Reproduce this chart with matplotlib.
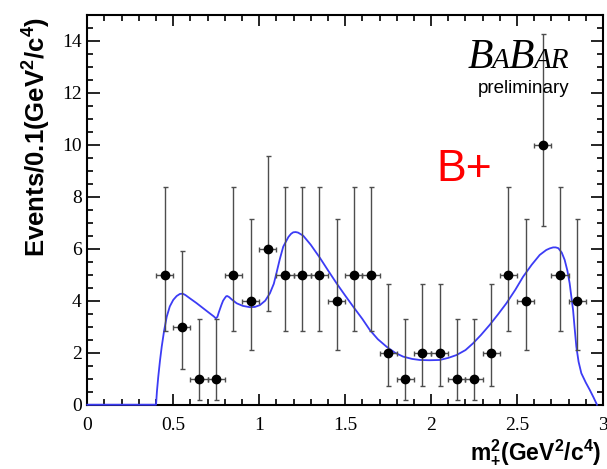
import matplotlib.pyplot as plt
from matplotlib.ticker import MultipleLocator, FixedLocator, FixedFormatter

# Datos: eventos por bin de 0.1 GeV^2/c^4
centros = [0.45, 0.55, 0.65, 0.75, 0.85, 0.95, 1.05, 1.15, 1.25, 1.35, 1.45,
           1.55, 1.65, 1.75, 1.85, 1.95, 2.05, 2.15, 2.25, 2.35, 2.45, 2.55,
           2.65, 2.75, 2.85]
eventos = [5, 3, 1, 1, 5, 4, 6, 5, 5, 5, 4, 5, 5, 2, 1, 2, 2, 1, 1, 2, 5, 4,
           10, 5, 4]
# extremos de las barras de error (Poisson)
err_abajo = [2.84, 1.37, 0.17, 0.17, 2.84, 2.09, 3.62, 2.84, 2.84, 2.84, 2.09,
             2.84, 2.84, 0.71, 0.17, 0.71, 0.71, 0.17, 0.17, 0.71, 2.84, 2.09,
             6.89, 2.84, 2.09]
err_arriba = [8.38, 5.92, 3.30, 3.30, 8.38, 7.16, 9.58, 8.38, 8.38, 8.38, 7.16,
              8.38, 8.38, 4.64, 3.30, 4.64, 4.64, 3.30, 3.30, 4.64, 8.38, 7.16,
              14.27, 8.38, 7.16]

# Curva del ajuste
ajuste_x = [0.0, 0.40, 0.405, 0.413, 0.423, 0.433, 0.447, 0.462, 0.48, 0.50,
            0.52, 0.539, 0.555, 0.57, 0.597, 0.635, 0.674, 0.715, 0.735,
            0.748, 0.757, 0.765, 0.781, 0.79, 0.80, 0.808, 0.814, 0.825, 0.84,
            0.869, 0.905, 0.946, 0.975, 1.004, 1.035, 1.062, 1.085, 1.10,
            1.12, 1.14, 1.17, 1.185, 1.198, 1.212, 1.226, 1.256, 1.30, 1.353,
            1.40, 1.45, 1.50, 1.547, 1.60, 1.644, 1.69, 1.741, 1.79, 1.837,
            1.89, 1.934, 1.99, 2.05, 2.10, 2.148, 2.20, 2.244, 2.29, 2.341,
            2.39, 2.438, 2.49, 2.535, 2.585, 2.632, 2.67, 2.69, 2.71, 2.725,
            2.74, 2.76, 2.777, 2.793, 2.806, 2.816, 2.826, 2.835, 2.845,
            2.858, 2.874, 2.90, 2.923, 2.945, 2.965]
ajuste_y = [0.0, 0.0, 0.5, 1.08, 1.7, 2.23, 2.85, 3.38, 3.78, 4.03,
            4.18, 4.26, 4.27, 4.22, 4.09, 3.91, 3.71, 3.50, 3.40,
            3.32, 3.38, 3.55, 3.85, 4.0, 4.10, 4.17, 4.18, 4.14, 4.05,
            3.90, 3.80, 3.75, 3.76, 3.83, 4.0, 4.28, 4.65, 5.05,
            5.6, 6.08, 6.45, 6.57, 6.63, 6.64, 6.62, 6.50, 6.15, 5.65,
            5.17, 4.67, 4.20, 3.77, 3.30, 2.87, 2.52, 2.23, 2.00, 1.85,
            1.76, 1.72, 1.71, 1.72, 1.80, 1.91, 2.10, 2.36, 2.68, 3.07,
            3.48, 3.90, 4.42, 4.92, 5.38, 5.76, 5.95, 6.01, 6.05, 6.05,
            6.02, 5.85, 5.57, 5.15, 4.67, 4.15, 3.64, 2.95, 2.23,
            1.65, 1.21, 0.85, 0.57, 0.28, 0.0]

etiquetas_x = ['0', '0.5', '1', '1.5', '2', '2.5', '3']
etiquetas_y = ['0', '2', '4', '6', '8', '10', '12', '14']

plt.rcParams['mathtext.fontset'] = 'custom'
plt.rcParams['mathtext.rm'] = 'Liberation Sans:bold'
plt.rcParams['mathtext.bf'] = 'Liberation Sans:bold'
plt.rcParams['mathtext.default'] = 'bf'

fig = plt.figure(figsize=(6.07, 4.69), dpi=100)
ax = fig.add_axes([0.1438, 0.1371, 0.8496, 0.8316])

# curva del ajuste (se dibuja encima del eje en y=0)
ax.plot(ajuste_x, ajuste_y, color='#3c3cf5', lw=1.3, zorder=2.6,
        clip_on=False)

# puntos con barras de error
yerr = [[e - a for e, a in zip(eventos, err_abajo)],
        [b - e for e, b in zip(eventos, err_arriba)]]
ax.errorbar(centros, eventos, xerr=0.05, yerr=yerr, fmt='o', color='black',
            ecolor='0.3', elinewidth=1.0, capsize=1.8, capthick=1.0,
            markersize=6, zorder=3)

ax.set_xlim(0, 3)
ax.set_ylim(0, 15)

# ejes
for s in ax.spines.values():
    s.set_linewidth(1.5)
ax.xaxis.set_major_locator(FixedLocator([0, 0.5, 1, 1.5, 2, 2.5, 3]))
ax.xaxis.set_major_formatter(FixedFormatter(etiquetas_x))
ax.xaxis.set_minor_locator(MultipleLocator(0.1))
ax.yaxis.set_major_locator(FixedLocator([0, 2, 4, 6, 8, 10, 12, 14]))
ax.yaxis.set_major_formatter(FixedFormatter(etiquetas_y))
ax.yaxis.set_minor_locator(MultipleLocator(0.5))
ax.tick_params(which='both', direction='in', top=True, right=True, width=1.2)
ax.tick_params(axis='x', which='major', length=8, pad=9)
ax.tick_params(axis='x', which='minor', length=4)
ax.tick_params(axis='y', which='major', length=9, pad=4)
ax.tick_params(axis='y', which='minor', length=4.5)
for lab in ax.get_xticklabels() + ax.get_yticklabels():
    lab.set_fontfamily('Liberation Serif')
    lab.set_fontsize(14)

# titulos de los ejes
fig.text(37 / 607, 1 - 137 / 469, r'Events/0.1(GeV$^{2}$/c$^{4}$)',
         rotation=90, ha='center', va='center', fontsize=18.5,
         fontfamily='Liberation Sans', fontweight='bold')
fig.text(601 / 607, 0.004, r'm$^{2}_{+}$(GeV$^{2}$/c$^{4}$)',
         ha='right', va='bottom', fontsize=16.5,
         fontfamily='Liberation Sans', fontweight='bold')

# logo BaBar con versalitas
fig.canvas.draw()
r = fig.canvas.get_renderer()
x0, y0 = 2.213, 12.95
trozos = [('B', 30), ('A', 21), ('B', 30), ('AR', 21)]
offs = 0
for txt, tam in trozos:
    t = ax.annotate(txt, (x0, y0), xycoords='data', textcoords='offset pixels',
                    xytext=(offs, 0), fontsize=tam, fontstyle='italic',
                    fontfamily='Liberation Serif', ha='left', va='baseline')
    offs += t.get_window_extent(r).width - 1
ax.text(2.805, 12.0, 'preliminary', ha='right', va='baseline', fontsize=13.5,
        fontfamily='Liberation Sans')

ax.text(2.033, 8.6, 'B+', color='red', fontsize=32, ha='left', va='baseline',
        fontfamily='Liberation Sans')

plt.savefig('out.png', dpi=100)
